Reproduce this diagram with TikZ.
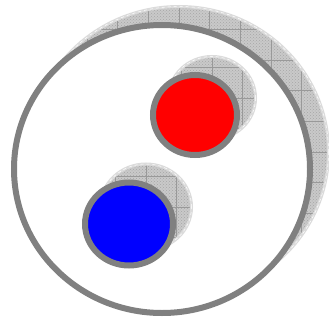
\documentclass[tikz,border=0pt]{standalone}
\usetikzlibrary{shapes.geometric,patterns}
\begin{document}
\begin{tikzpicture}[
    x=1pt, y=-1pt,
    disc/.style={ellipse, draw=gray, line width=6pt, inner sep=0pt},
    shade/.style={ellipse, inner sep=0pt, preaction={fill=gray!42}, pattern=crosshatch dots, pattern color=gray!70,
        draw=gray!28, line width=3pt, postaction={draw=white, dashed, line width=0.5pt},
        path picture={
            \begin{scope}[shift={(path picture bounding box.center)}, xshift=10pt, yshift=10pt]
                \draw[gray!80, line width=0.5pt, step=30.67pt] (-200,-200) grid (200,200);
            \end{scope}
        }}
]
    \useasboundingbox (0,0) rectangle (329,321);

    % Plate
    \node[shade, minimum width=299pt, minimum height=291pt] (plate-shadow) at (179,152) {};
    \node[disc, fill=white, minimum width=296pt, minimum height=288pt] (plate) at (162,169) {};

    % Red disc
    \node[shade, minimum width=87pt, minimum height=83pt] (red-shadow) at (212,98) {};
    \node[disc, fill=red, minimum width=84pt, minimum height=80pt] (red) at (195,115) {};

    % Blue disc
    \node[shade, minimum width=91pt, minimum height=86pt] (blue-shadow) at (146,207) {};
    \node[disc, fill=blue, minimum width=88pt, minimum height=83pt] (blue) at (129,224) {};

\end{tikzpicture}
\end{document}
